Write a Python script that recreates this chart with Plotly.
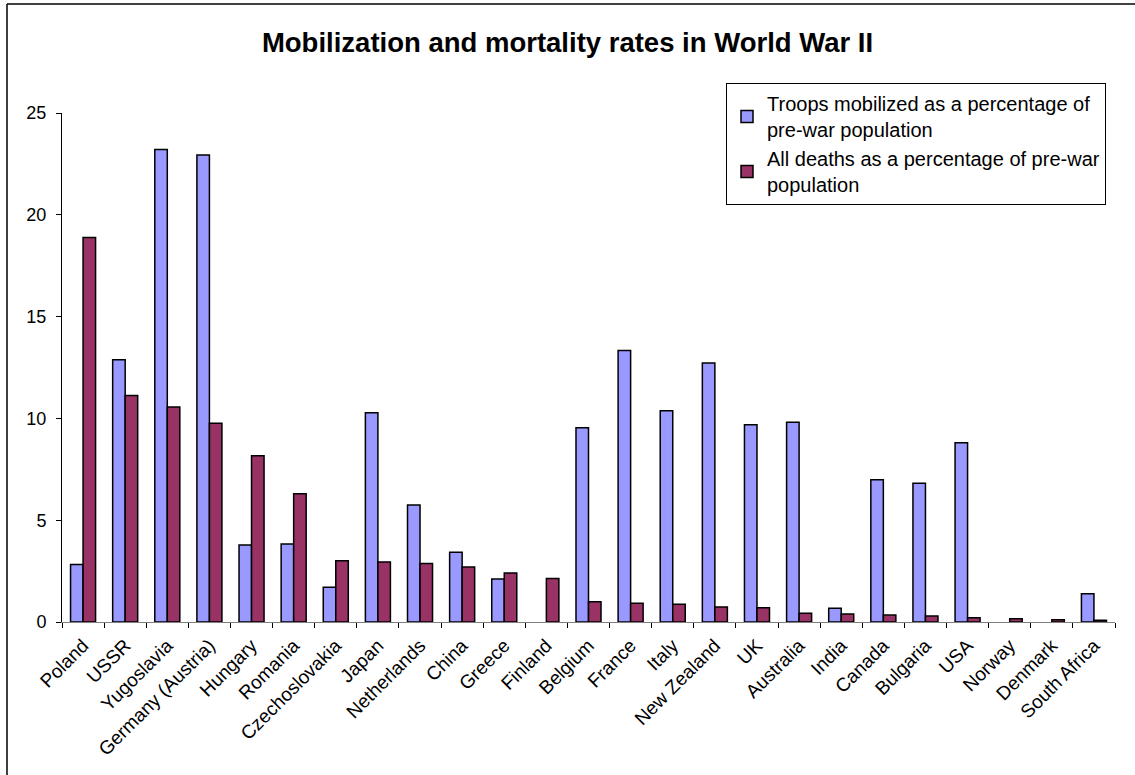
import plotly.graph_objects as go

countries = [
    "Poland", "USSR", "Yugoslavia", "Germany (Austria)", "Hungary", "Romania",
    "Czechoslovakia", "Japan", "Netherlands", "China", "Greece", "Finland",
    "Belgium", "France", "Italy", "New Zealand", "UK", "Australia", "India",
    "Canada", "Bulgaria", "USA", "Norway", "Denmark", "South Africa",
]

# None = no figure given for that country
troops_pct = [
    2.83, 12.88, 23.21, 22.94, 3.78, 3.83,
    1.71, 10.28, 5.75, 3.42, 2.11, None,
    9.54, 13.34, 10.38, 12.72, 9.69, 9.81, 0.67,
    6.99, 6.81, 8.81, None, None, 1.39,
]

deaths_pct = [
    18.88, 11.12, 10.56, 9.76, 8.16, 6.30,
    3.01, 2.95, 2.87, 2.70, 2.41, 2.14,
    1.00, 0.92, 0.87, 0.74, 0.70, 0.43, 0.39,
    0.34, 0.29, 0.21, 0.16, 0.11, 0.08,
]

y_ticks = [0, 5, 10, 15, 20, 25]

FONT = "Liberation Sans, Arial, sans-serif"

fig = go.Figure()
fig.add_trace(go.Bar(
    x=countries, y=troops_pct,
    name="Troops mobilized as a percentage of<br>pre-war population",
    marker=dict(color="#9999FF", line=dict(color="#000000", width=1.5)),
))
fig.add_trace(go.Bar(
    x=countries, y=deaths_pct,
    name="All deaths as a percentage of pre-war<br>population",
    marker=dict(color="#993366", line=dict(color="#000000", width=1.5)),
))

W, H = 1135, 775
ML, MR, MT, MB = 62, 20, 113, 153
pw, ph = W - ML - MR, H - MT - MB


def px_to_paper(px, py):
    return (px - ML) / pw, (H - MB - py) / ph


# chart frame (left and top edges)
fx, fy = px_to_paper(7, 4)
_, fy_bottom = px_to_paper(7, 780)
fx_right, _ = px_to_paper(1140, 4)

fig.update_layout(
    width=W, height=H,
    margin=dict(l=ML, r=MR, t=MT, b=MB),
    paper_bgcolor="white", plot_bgcolor="white",
    barmode="group", bargap=0.406, bargroupgap=0,
    font=dict(family=FONT, size=18, color="black"),
    title=dict(
        text="<b>Mobilization and mortality rates in World War II</b>",
        x=0.5, xref="container", xanchor="center",
        y=1 - 42 / H, yref="container", yanchor="middle",
        font=dict(family=FONT, size=27.5, color="black"),
    ),
    legend=dict(
        x=px_to_paper(726, 0)[0], y=px_to_paper(0, 83)[1],
        xanchor="left", yanchor="top",
        bordercolor="black", borderwidth=1, bgcolor="white",
        font=dict(family=FONT, size=20, color="black"),
        tracegroupgap=0, itemwidth=30,
    ),
    xaxis=dict(
        tickangle=-45, showline=True, linecolor="#808080", linewidth=1,
        ticks="outside", ticklen=5, tickcolor="black",
        tickson="boundaries", showgrid=False, ticklabelstandoff=4,
        tickfont=dict(family=FONT, size=19),
    ),
    yaxis=dict(
        range=[0, 25], tickvals=y_ticks, showline=True, linecolor="black",
        linewidth=1, ticks="outside", ticklen=5, tickcolor="black",
        showgrid=False, zeroline=False, ticklabelstandoff=6,
        tickfont=dict(family=FONT, size=18),
    ),
    shapes=[
        dict(type="line", xref="paper", yref="paper", x0=fx, x1=fx,
             y0=fy, y1=fy_bottom, line=dict(color="black", width=1.5)),
        dict(type="line", xref="paper", yref="paper", x0=fx, x1=fx_right,
             y0=fy, y1=fy, line=dict(color="black", width=1.5)),
    ],
)

fig.write_html("out.html")
